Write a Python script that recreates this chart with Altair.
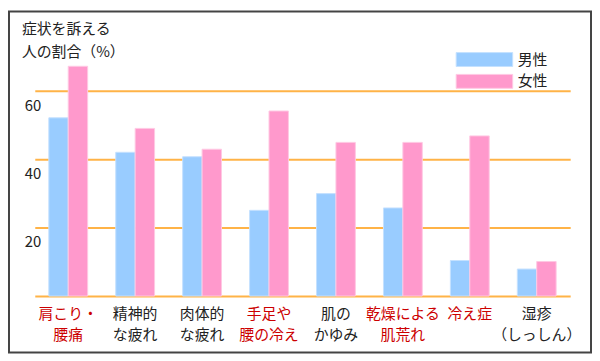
import altair as alt
import pandas as pd

categories = ["肩こり・|腰痛", "精神的|な疲れ", "肉体的|な疲れ", "手足や|腰の冷え",
              "肌の|かゆみ", "乾燥による|肌荒れ", "冷え症", "湿疹|（しっしん）"]
red_categories = ["肩こり・|腰痛", "手足や|腰の冷え", "乾燥による|肌荒れ", "冷え症"]
male = [52.2, 42.1, 40.8, 25.1, 30.0, 25.8, 10.4, 7.9]
female = [67.3, 49.1, 43.0, 54.2, 45.0, 45.0, 46.9, 10.1]
series = ["男性", "女性"]
colors = ["#99CCFF", "#FF99CC"]
strokes = ["#C4E1FF", "#FFC8E3"]
y_ticks = [0, 20, 40, 60]
title_lines = ["症状を訴える", "人の割合（%）"]

rows = []
for i, c in enumerate(categories):
    rows.append({"cat": c, "sex": series[0], "v": male[i]})
    rows.append({"cat": c, "sex": series[1], "v": female[i]})
df = pd.DataFrame(rows)

FONT = "Noto Sans CJK JP"
W, H = 540, 241

red_list = ",".join("'" + c + "'" for c in red_categories)

bars = alt.Chart(df).mark_bar(strokeWidth=1).encode(
    x=alt.X("cat:N", sort=categories, title=None,
            scale=alt.Scale(paddingInner=0.42, paddingOuter=0.21),
            axis=alt.Axis(labelAngle=0, labelExpr="split(datum.label,'|')",
                          labelFontSize=15, labelLineHeight=21, labelPadding=11,
                          labelFont=FONT, ticks=False, domain=False, labelLimit=200,
                          labelColor={"condition": {"test": f"indexof([{red_list}], datum.value) >= 0",
                                                    "value": "#CC0000"},
                                      "value": "#222222"})),
    xOffset=alt.XOffset("sex:N", sort=series, scale=alt.Scale(paddingInner=0, paddingOuter=0)),
    y=alt.Y("v:Q", title=None,
            scale=alt.Scale(domain=[0, 70], nice=False),
            axis=alt.Axis(values=y_ticks, grid=True, gridColor="#FFB347", gridWidth=2,
                          gridOpacity=1, domain=False, ticks=False,
                          labelExpr="datum.value == 0 ? '' : datum.label",
                          labelFontSize=15, labelFont=FONT, labelColor="#222222",
                          labelOffset=14, labelPadding=-6, labelAlign="right",
                          labelBaseline="middle")),
    color=alt.Color("sex:N", sort=series,
                    scale=alt.Scale(domain=series, range=colors),
                    legend=alt.Legend(title=None, orient="none", legendX=446, legendY=-5,
                                      symbolType="M-5.7,-1.4H5.7V1.4H-5.7Z",
                                      symbolSize=100, symbolStrokeWidth=1,
                                      symbolOpacity=1,
                                      labelFontSize=15, labelFont=FONT, labelColor="#222222",
                                      labelOffset=26, rowPadding=3, padding=0)),
    stroke=alt.Stroke("sex:N", sort=series, scale=alt.Scale(domain=series, range=strokes),
                      legend=None),
)

frame = alt.Chart(pd.DataFrame({"a": [0]})).mark_rect(
    fill=None, stroke="#444444", strokeWidth=2, clip=False
).encode(
    x=alt.value(-26), x2=alt.value(W + 21),
    y=alt.value(-46), y2=alt.value(H + 57),
)

chart = alt.layer(bars, frame).properties(
    width=W, height=H,
    title=alt.TitleParams(title_lines, anchor="start", frame="group", dx=-13, dy=52,
                          fontSize=15, font=FONT, fontWeight="normal", lineHeight=23,
                          color="#222222", offset=2),
    autosize=alt.AutoSizeParams(type="none"),
    padding={"left": 27, "top": 48, "right": 22, "bottom": 58},
    background="white",
).configure_view(stroke=None)

chart.save("out.html", embed_options={"renderer": "svg", "actions": False})
